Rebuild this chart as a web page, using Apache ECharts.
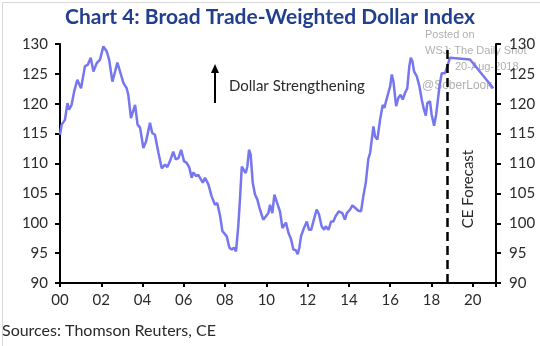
<!DOCTYPE html>
<html>
<head>
<meta charset="utf-8">
<script src="https://cdn.jsdelivr.net/npm/echarts@6/dist/echarts.min.js"></script>
<style>
html,body{margin:0;padding:0;background:#fff;}
#c{width:540px;height:346px;}
</style>
</head>
<body>
<div id="c"></div>
<script>
// Decimal years since 2000 and index values
var years = [0,0.08,0.24,0.36,0.44,0.56,0.69,0.84,1.02,1.21,1.34,1.49,1.62,1.78,1.94,2.10,2.26,2.38,2.54,2.67,2.78,2.91,3.07,3.23,3.31,3.44,3.50,3.64,3.76,3.88,
4.04,4.17,4.36,4.47,4.60,4.77,4.93,5.09,5.20,5.33,5.49,5.61,5.74,5.87,6.01,6.14,6.27,6.38,6.46,6.59,6.70,6.79,6.92,7.03,7.19,7.35,7.51,7.62,7.76,7.87,
7.96,8.08,8.21,8.32,8.43,8.53,8.64,8.73,8.81,8.89,9.00,9.08,9.16,9.24,9.34,9.45,9.56,9.69,9.85,9.94,10.10,10.18,10.29,10.39,10.46,10.58,10.66,10.78,10.87,10.95,
11.07,11.20,11.31,11.43,11.52,11.60,11.68,11.79,11.96,12.07,12.17,12.28,12.44,12.55,12.68,12.80,12.88,13.01,13.14,13.25,13.36,13.52,13.68,13.81,13.90,14.06,14.17,14.30,14.46,14.59,
14.70,14.82,14.94,15.03,15.11,15.19,15.27,15.38,15.51,15.64,15.72,15.80,15.91,16.00,16.08,16.16,16.29,16.40,16.51,16.61,16.72,16.83,16.93,17.00,17.08,17.16,17.29,17.42,17.53,17.64,
17.73,17.80,17.93,18.01,18.13,18.23,18.31,18.39,18.50,18.66,18.77,18.90,19.87,21.00];
var values = [114.8,116.5,117.3,120.1,119.0,119.8,122.1,124.0,122.6,126.3,126.5,127.7,125.4,126.8,127.4,129.6,128.8,127.4,123.7,125.4,126.9,125.4,123.5,122.6,121.5,117.6,117.3,119.8,116.5,116.0,
112.6,113.7,116.8,115.1,114.8,111.8,109.2,109.8,109.4,110.4,112.0,110.7,110.9,112.3,110.4,110.1,109.3,107.6,108.5,107.9,108.1,108.4,106.8,107.6,106.5,104.5,103.1,103.4,101.2,98.7,
98.9,97.8,95.9,95.6,95.9,95.3,99.5,104.5,109.5,109.0,108.4,109.5,112.3,111.5,106.8,104.8,104.0,102.3,100.6,100.9,101.7,103.1,101.7,104.8,105.1,102.8,102.0,99.2,99.5,100.1,
98.4,97.3,95.6,95.5,94.8,95.9,97.8,98.9,100.3,98.9,98.9,100.3,102.3,101.5,99.5,98.9,99.5,98.9,100.3,100.3,101.2,102.0,101.7,100.6,101.7,102.3,103.0,102.6,102.1,102.0,
104.5,106.8,110.7,111.8,114.0,116.2,114.5,114.0,117.3,119.8,119.3,120.4,121.8,122.9,124.9,123.7,119.6,121.0,121.5,120.7,121.8,122.6,126.3,127.7,127.1,125.4,124.6,122.9,120.7,119.0,
118.0,120.1,120.4,118.2,116.3,118.2,118.2,122.9,125.1,125.1,126.3,127.7,127.4,122.6];
var forecastStart = 18.79;
var yTicks = [90,95,100,105,110,115,120,125,130];
var xTickLabels = ['00','02','04','06','08','10','12','14','16','18','20'];

var points = years.map(function(y,i){return [y, values[i]];});
var font = 'Lato, "Open Sans", sans-serif';

var chart = echarts.init(document.getElementById('c'), null, {renderer:'canvas'});
var yAxisCommon = {
  type:'value', min:yTicks[0], max:yTicks[yTicks.length-1], interval:5,
  splitLine:{show:false},
  axisLine:{show:true, lineStyle:{color:'#000', width:2}},
  axisTick:{show:true, length:5, lineStyle:{color:'#000', width:2}},
  axisLabel:{color:'#2a2a2a', fontSize:15, fontFamily:font}
};
chart.setOption({
  animation:false,
  backgroundColor:'#fff',
  title:{
    text:'Chart 4: Broad Trade-Weighted Dollar Index',
    left:'center', top:2,
    textStyle:{color:'#213f8c', fontSize:21, fontWeight:'bold', fontFamily:font}
  },
  grid:{left:60, right:44, top:44, bottom:63},
  xAxis:{
    type:'value', min:0, max:21.13, interval:2,
    splitLine:{show:false},
    axisLine:{lineStyle:{color:'#000', width:2}},
    axisTick:{length:4, lineStyle:{color:'#000', width:2}},
    axisLabel:{color:'#2a2a2a', fontSize:15, fontFamily:font, margin:10,
      formatter:function(v){var i=Math.round(v/2); return (Math.abs(v-i*2)<1e-6 && xTickLabels[i]!==undefined)?xTickLabels[i]:'';}}
  },
  yAxis:[
    Object.assign({}, yAxisCommon, {position:'left', axisLabel:Object.assign({}, yAxisCommon.axisLabel, {margin:12})}),
    Object.assign({}, yAxisCommon, {position:'right', axisLabel:Object.assign({}, yAxisCommon.axisLabel, {margin:13})})
  ],
  series:[{
    type:'line', data:points, showSymbol:false, symbol:'none',
    lineStyle:{color:'#7676f0', width:2.5},
    markLine:{
      silent:true, symbol:['none','none'], label:{show:false},
      lineStyle:{color:'#000', width:2.5, type:[9,5]},
      data:[[{coord:[forecastStart,129]},{coord:[forecastStart,90]}]]
    }
  }],
  graphic:[
    {type:'rect', left:0, top:0, shape:{x:0.5,y:0.5,width:539,height:345}, style:{fill:'none', stroke:'#d8d8d8', lineWidth:1}, silent:true},
    {type:'line', shape:{x1:215,y1:103,x2:215,y2:71}, style:{stroke:'#000', lineWidth:2}},
    {type:'polygon', shape:{points:[[215,64],[211,73],[219,73]]}, style:{fill:'#000'}},
    {type:'text', left:229, top:79, style:{text:'Dollar Strengthening', fill:'#2a2a2a', font:'15px '+font}},
    {type:'text', x:468, y:189, rotation:Math.PI/2, style:{text:'CE Forecast', fill:'#2a2a2a', font:'15px '+font, align:'center', verticalAlign:'middle'}},
    {type:'text', left:425, top:29, style:{text:'Posted on', fill:'#b0b0b0', font:'11px "Liberation Sans", Arial, sans-serif'}},
    {type:'text', left:425, top:45, style:{text:'WSJ: The Daily Shot', fill:'#b0b0b0', font:'11px "Liberation Sans", Arial, sans-serif'}},
    {type:'text', left:455, top:61, style:{text:'20-Aug-2018', fill:'#b0b0b0', font:'11px "Liberation Sans", Arial, sans-serif'}},
    {type:'text', left:422, top:80, style:{text:'@SoberLook', fill:'#b0b0b0', font:'12px "Liberation Sans", Arial, sans-serif'}},
    {type:'text', left:2, top:323, style:{text:'Sources: Thomson Reuters, CE', fill:'#2a2a2a', font:'16px '+font}}
  ]
});
</script>
</body>
</html>
